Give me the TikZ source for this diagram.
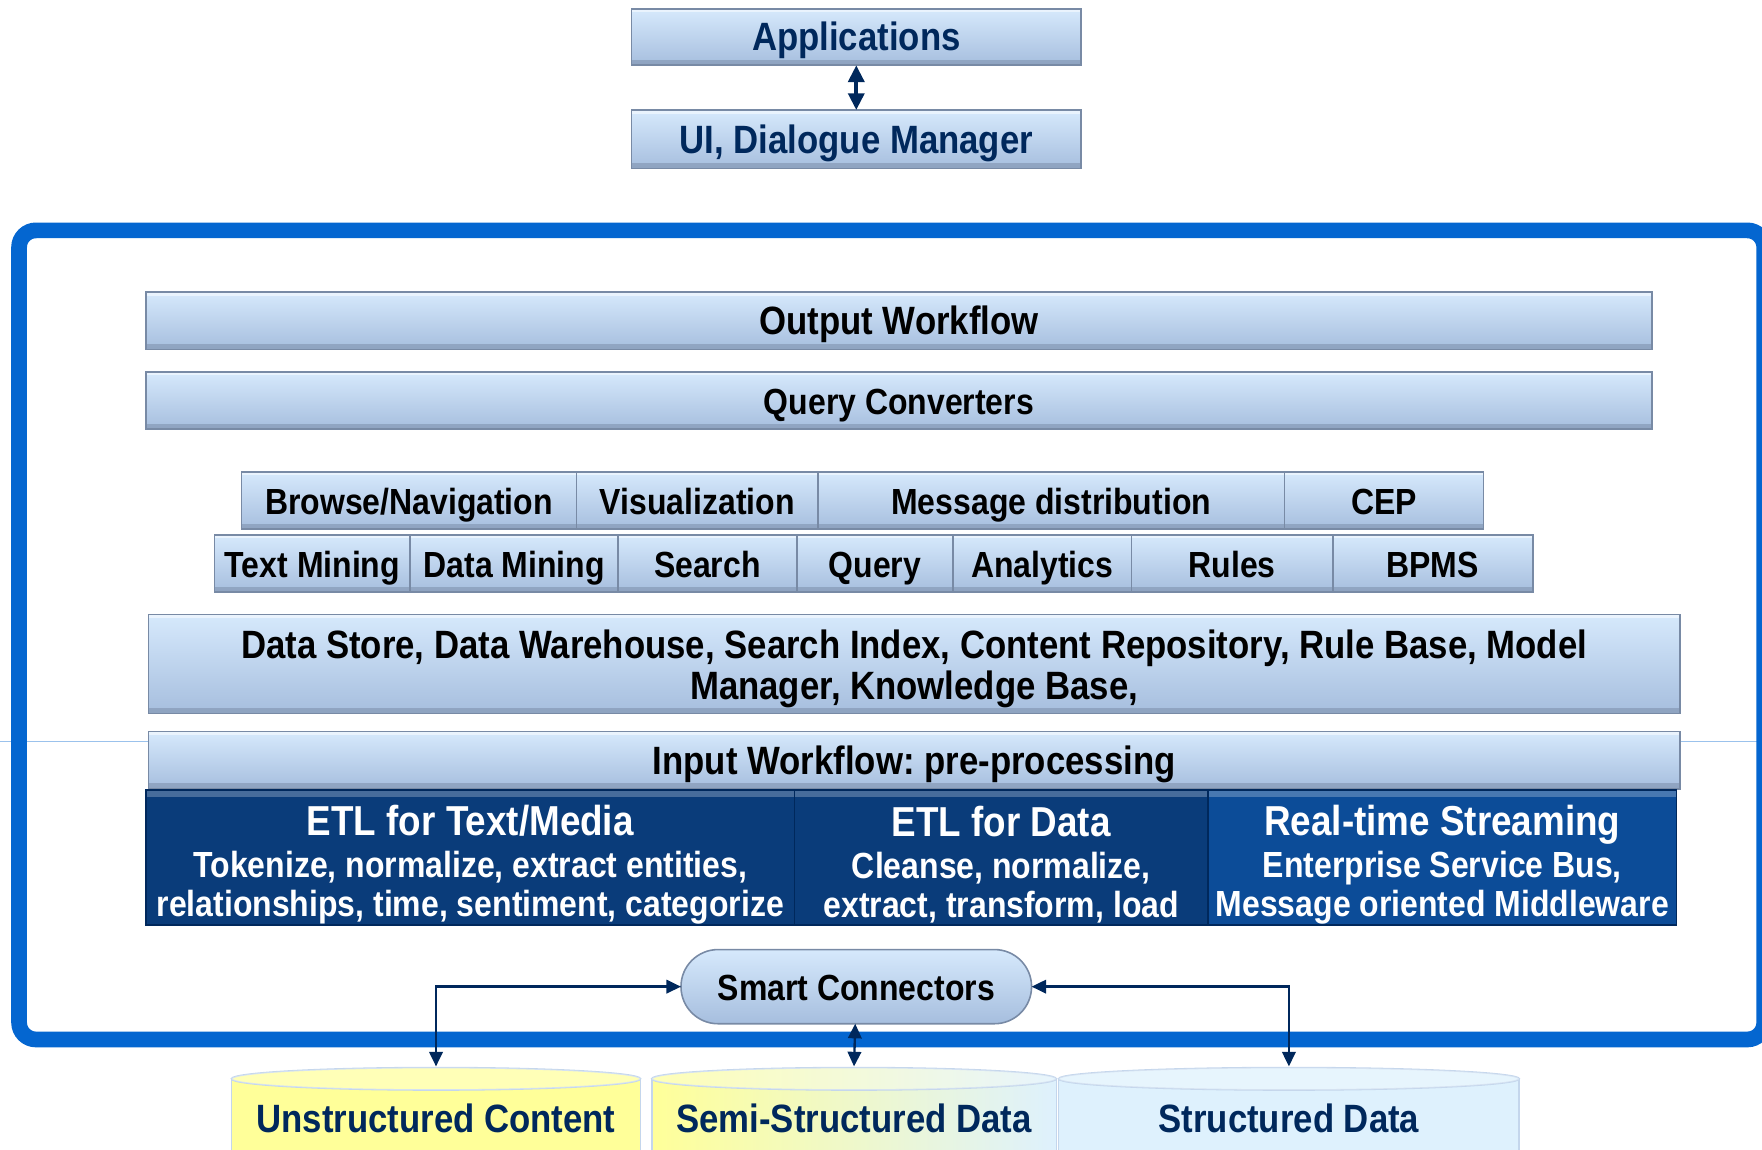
\documentclass[tikz,border=0pt]{standalone}
\usepackage{fontspec}
\setmainfont{Liberation Sans}[FakeStretch=0.88]
\frenchspacing
\usetikzlibrary{arrows.meta}
\definecolor{navy}{RGB}{0,40,92}
\definecolor{framecol}{RGB}{4,102,208}
\definecolor{boxtop}{RGB}{214,233,252}
\definecolor{boxbot}{RGB}{166,190,222}
\definecolor{boxedge}{RGB}{120,138,165}
\definecolor{etldark}{RGB}{10,60,122}
\definecolor{etlblue}{RGB}{12,76,152}
\definecolor{cylyellow}{RGB}{255,255,153}
\definecolor{cylblue}{RGB}{222,241,253}
\definecolor{cyledge}{RGB}{196,214,236}
\def\cyltop{960}
\def\cylbot{1060}
% box from x1 to x2, y1 to y2 (picture pixels)
\newcommand\blk[7][]{%
  \node[blkbox,#1,minimum width={(#4-#3)*0.1mm},minimum height={(#6-#5)*0.1mm}]
    (#2) at ({(#3+#4)/2},{(#5+#6)/2}) {#7};}

\begin{document}
\begin{tikzpicture}[x=0.1mm,y=-0.1mm,
  blkbox/.style={draw=boxedge,top color=boxtop,bottom color=boxbot,
    inner sep=0pt,outer sep=0pt,align=center,
    font=\bfseries\fontsize{10}{10.3}\selectfont,
    path picture={\fill[boxedge,opacity=.5] (path picture bounding box.south west)
      rectangle ([yshift=.5mm]path picture bounding box.south east);
      \fill[white,opacity=.5] (path picture bounding box.north west)
      rectangle ([yshift=-.3mm]path picture bounding box.north east);}},
  mono/.style={text height=7.4pt,text depth=.4pt},
  small/.style={mono,font=\bfseries\fontsize{9.2}{10}\selectfont},
  navybox/.style={mono,text=navy},
  etl/.style={draw=navy,top color=etldark,bottom color=etldark,text=white,
    font=\bfseries\fontsize{9.2}{9.8}\selectfont,
    path picture={\fill[white,opacity=.25] (path picture bounding box.north west)
      rectangle ([yshift=-.6mm]path picture bounding box.north east);}},
  link/.style={navy,line width=.6pt,{Triangle[length=1.3mm,width=1.2mm]}-{Triangle[length=1.3mm,width=1.2mm]}},
  dbl/.style={navy,line width=1.1pt,{Triangle[length=1.5mm,width=1.4mm]}-{Triangle[length=1.5mm,width=1.4mm]}},
  cyltext/.style={text=navy,font=\bfseries\fontsize{10}{12}\selectfont},
  cylyel/.style={fill=cylyellow},
  cylmix/.style={left color=cylyellow,right color=cylblue},
  cylblu/.style={fill=cylblue}]
  \useasboundingbox (0,0) rectangle (1568,1023);

  % hairline and frame
  \draw[framecol!40!white,line width=.4pt] (0,660) -- (1568,660);
  \draw[framecol,line width=1.4mm,rounded corners=1.5mm] (17,205) rectangle (1570,925);

  % top
  \blk[navybox]{app}{562}{962}{8}{58}{Applications}
  \blk[navybox]{ui}{562}{962}{98}{150}{UI, Dialogue Manager}
  \draw[dbl] (app) -- (ui);

  % workflow layers
  \blk[mono]{outwf}{130}{1470}{260}{311}{Output Workflow}
  \blk[small]{qconv}{130}{1470}{331}{382}{Query Converters}
  \foreach \a/\b/\n/\t in {215/513/browse/Browse\slash Navigation,513/728/vis/Visualization,
      728/1143/msg/Message distribution,1143/1320/cep/CEP} {
    \blk[small]{\n}{\a}{\b}{420}{471}{\t}
  }
  \foreach \a/\b/\n/\t in {191/365/tmine/Text Mining,365/550/dmine/Data Mining,
      550/709/search/Search,709/848/query/Query,848/1007/anly/Analytics,
      1007/1186/rules/Rules,1186/1364/bpms/BPMS} {
    \blk[small]{\n}{\a}{\b}{476}{527}{\t}
  }
  \blk{store}{132}{1495}{547}{635}{\rule{0pt}{9.5pt}Data Store, Data Warehouse, Search Index, Content Repository, Rule Base, Model\\Manager, Knowledge Base,}
  \blk[mono]{inwf}{132}{1495}{651}{702}{Input Workflow: pre-processing}

  % ETL
  \blk[etl]{etltext}{130}{707}{703}{823}{{\fontsize{10.6}{9.8}\selectfont\rule{0pt}{4mm}ETL for Text/Media}\\[.8pt]
    Tokenize, normalize, extract entities,\\relationships, time, sentiment, categorize}
  \blk[etl]{etldata}{707}{1075}{703}{823}{{\fontsize{10.6}{9.8}\selectfont\rule{0pt}{4mm}ETL for Data}\\[.8pt]
    Cleanse, normalize,\\extract, transform, load}
  \blk[etl,top color=etlblue,bottom color=etlblue]{stream}{1075}{1492}{703}{823}{{\fontsize{10.6}{9.8}\selectfont\rule{0pt}{4mm}Real-time Streaming}\\[.8pt]
    Enterprise Service Bus,\\Message oriented Middleware}

  % sources
  \node[blkbox,small,rounded corners=3.3mm,minimum width=31.2mm,minimum height=6.6mm,
    path picture={}] (sc) at (762,878) {Smart Connectors};
  \foreach \a/\b/\n/\t/\s in {206/570/unstr/Unstructured Content/cylyel,
      580/940/semi/Semi-Structured Data/cylmix,942/1352/struct/Structured Data/cylblu} {
    \path[\s] (\a,\cyltop) rectangle (\b,\cylbot);
    \draw[cyledge] (\a,\cyltop) -- (\a,\cylbot) (\b,\cyltop) -- (\b,\cylbot);
    \path[\s,draw=cyledge] ({(\a+\b)/2},\cyltop) ellipse [x radius={(\b-\a)*0.05mm},y radius=1mm];
    \fill[white,opacity=.3] ({(\a+\b)/2},\cyltop) ellipse [x radius={(\b-\a)*0.05mm},y radius=1mm];
    \node[cyltext] (\n) at ({(\a+\b)/2},995) {\t};
    \coordinate (\n-top) at ({(\a+\b)/2},949);
  }
  \draw[link] (unstr-top) |- (sc);
  \draw[link] (sc) -- (semi-top);
  \draw[link] (struct-top) |- (sc);
\end{tikzpicture}
\end{document}
